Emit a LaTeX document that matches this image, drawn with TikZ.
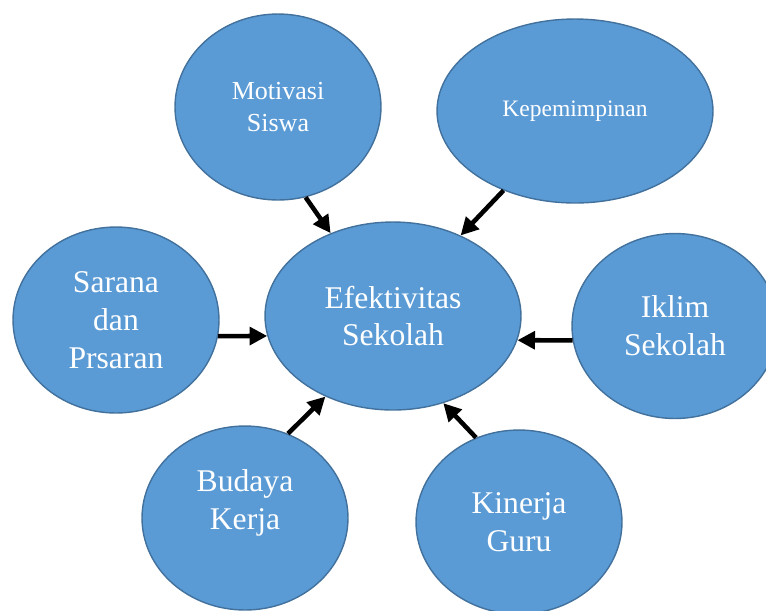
\documentclass[tikz,border=0pt]{standalone}
\usepackage{fontspec}
\setmainfont{Liberation Serif}
\usetikzlibrary{shapes.geometric,arrows.meta}

\definecolor{azulrelleno}{HTML}{5B9BD5}
\definecolor{azulborde}{HTML}{41719C}

\begin{document}
\begin{tikzpicture}[x=0.02cm,y=-0.02cm,
		elipse/.style={ellipse, draw=azulborde, line width=0.8pt, fill=azulrelleno, text=white, align=center, inner sep=0pt},
		grande/.style={font=\fontsize{18}{21.5}\selectfont},
		flecha/.style={line width=2.6pt, -{Triangle[length=10pt,width=10pt]}}]
			
			% Marco de la figura
			\path[use as bounding box, clip] (0,0) rectangle (766,610);
			
			% Elipse central
			\node[elipse, grande, minimum width=5.12cm, minimum height=3.76cm] (efek) at (393,316) {Efektivitas\\Sekolah};
			
			% Elipses exteriores
			\node[elipse, minimum width=4.12cm, minimum height=3.72cm, font=\fontsize{14.8}{18}\selectfont] (motivasi) at (278,107) {Motivasi\\Siswa};
			\node[elipse, minimum width=5.52cm, minimum height=3.68cm, font=\fontsize{13.4}{16}\selectfont] (pemimpin) at (575,111) {Kepemimpinan};
			\node[elipse, grande, minimum width=4.12cm, minimum height=3.72cm] (sarana) at (116,320) {Sarana\\dan\\Prsaran};
			\node[elipse, grande, minimum width=4.12cm, minimum height=3.70cm] (iklim) at (675,326) {Iklim\\Sekolah};
			\node[elipse, minimum width=4.12cm, minimum height=3.68cm] (budaya) at (245,518) {};
			\node[grande, text=white, align=center] (budayatxt) at (245,503) {Budaya\\Kerja}; % Texto algo arriba
			\node[elipse, grande, minimum width=4.12cm, minimum height=3.68cm] (kinerja) at (519,522) {Kinerja\\Guru};
			
			% Flechas hacia el centro
			\draw[flecha] (motivasi.-73) -- (efek.127);
			\draw[flecha] (pemimpin.-132) -- (efek.50);
			\draw[flecha] (sarana.-9) -- (efek.189);
			\draw[flecha] (iklim.188) -- (efek.-11);
			\draw[flecha] (budaya.63) -- (efek.-130);
			\draw[flecha] (kinerja.117) -- (efek.-60);
			
		\end{tikzpicture}
\end{document}
